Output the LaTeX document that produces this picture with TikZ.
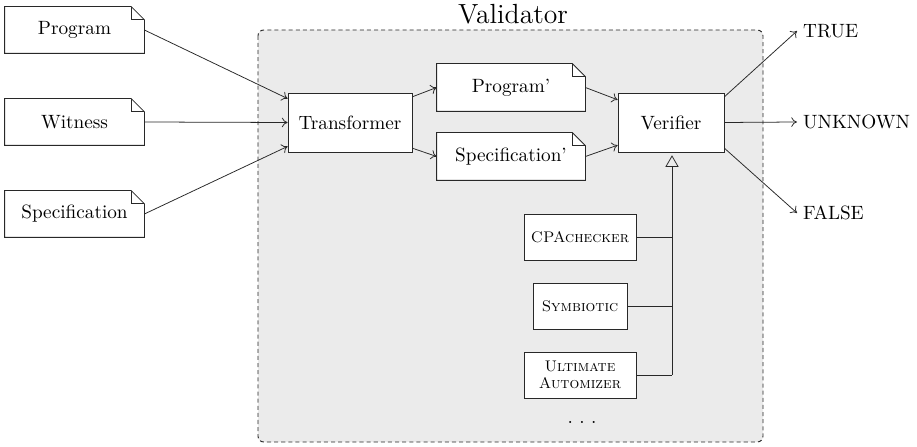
\documentclass[tikz,border=0pt]{standalone}
\usetikzlibrary{arrows.meta,calc}
\pgfdeclarelayer{bg}\pgfdeclarelayer{mid}
\pgfsetlayers{bg,mid,main}
\definecolor{valfill}{RGB}{235,235,235}
\definecolor{lineclr}{RGB}{40,40,40}
\def\pxu{0.52pt}
\def\fold{6.8pt}
\newcommand\docshape[1]{%
  \begin{pgfonlayer}{mid}
  \filldraw[draw=lineclr,fill=white] (#1.south west) -- (#1.north west) -- ([xshift=-\fold]#1.north east) -- ([yshift=-\fold]#1.north east) -- (#1.south east) -- cycle;
  \draw[lineclr] ([xshift=-\fold]#1.north east) -- ([xshift=-\fold,yshift=-\fold]#1.north east) -- ([yshift=-\fold]#1.north east);
  \end{pgfonlayer}}
\tikzset{
  docnode/.style={inner sep=0pt},
  boxnode/.style={draw=lineclr,fill=white,inner sep=0pt,align=center},
  arr/.style={lineclr,-{To[length=3pt,width=5pt]}},
  plain/.style={lineclr},
  outlabel/.style={anchor=west,inner sep=3pt},
}
\begin{document}
\begin{tikzpicture}[x=0.52pt,y=-0.52pt]
\useasboundingbox (0,0) rectangle (917,447);
% validator
\begin{pgfonlayer}{bg}
\draw[dash pattern=on 2.1pt off 1.6pt,line width=0.5pt,draw=black!85,fill=valfill,rounded corners=3pt] (258,30) rectangle (763,442);
\end{pgfonlayer}
\node (vlabel) at (513,14) {\Large Validator};
% inputs
\node[docnode,minimum width=139*\pxu,minimum height=46*\pxu] (prog) at (74.5,30) {Program};
\docshape{prog}
\node[docnode,minimum width=139*\pxu,minimum height=46*\pxu] (wit) at (74.5,122) {Witness};
\docshape{wit}
\node[docnode,minimum width=139*\pxu,minimum height=46*\pxu] (spec) at (74.5,214) {Specification};
\docshape{spec}
% transformer
\node[boxnode,minimum width=124*\pxu,minimum height=59*\pxu] (trans) at (350,122.5) {Transformer};
\node[docnode,minimum width=148*\pxu,minimum height=47*\pxu] (progp) at (511,87.5) {Program'};
\docshape{progp}
\node[docnode,minimum width=148*\pxu,minimum height=47*\pxu] (specp) at (511,156.5) {Specification'};
\docshape{specp}
\node[boxnode,minimum width=106*\pxu,minimum height=59*\pxu] (ver) at (671,122.5) {Verifier};
% tools
\node[boxnode,minimum width=112*\pxu,minimum height=46*\pxu,font=\footnotesize] (cpa) at (580,237) {\textsc{CPAchecker}};
\node[boxnode,minimum width=94*\pxu,minimum height=46*\pxu,font=\footnotesize] (sym) at (580,306) {\textsc{Symbiotic}};
\node[boxnode,minimum width=112*\pxu,minimum height=46*\pxu,font=\footnotesize,text width=100*\pxu,align=center] (ult) at (580,375) {\textsc{Ultimate}\\[-1pt]\textsc{Automizer}};
\node[anchor=base] (dots) at (582,423) {.\ .\ .};
% outputs
\node[outlabel] (t) at (797,31) {TRUE};
\node[outlabel] (u) at (797,122) {UNKNOWN};
\node[outlabel] (f) at (797,213) {FALSE};
% connectors
\draw[arr] (prog.east) -- ($(trans.north west)!0.1!(trans.south west)$);
\draw[arr] (wit.east) -- (trans.west);
\draw[arr] (spec.east) -- ($(trans.north west)!0.9!(trans.south west)$);
\draw[arr] ($(trans.north east)!0.07!(trans.south east)$) -- (progp.west);
\draw[arr] ($(trans.north east)!0.93!(trans.south east)$) -- (specp.west);
\draw[arr] (progp.east) -- ($(ver.north west)!0.12!(ver.south west)$);
\draw[arr] (specp.east) -- ($(ver.north west)!0.88!(ver.south west)$);
\draw[arr] ($(ver.north east)!0.07!(ver.south east)$) -- (t.west);
\draw[arr] (ver.east) -- (u.west);
\draw[arr] ($(ver.north east)!0.93!(ver.south east)$) -- (f.west);
\coordinate (junc) at (672,375);
\draw[plain,-{Triangle[open,length=6pt,width=6.8pt]}] (junc) -- ([yshift=-1.5pt]ver.south -| junc);
\draw[plain] (cpa.east) -- (cpa.east -| junc);
\draw[plain] (sym.east) -- (sym.east -| junc);
\draw[plain] (ult.east) -- (junc);
\end{tikzpicture}
\end{document}
